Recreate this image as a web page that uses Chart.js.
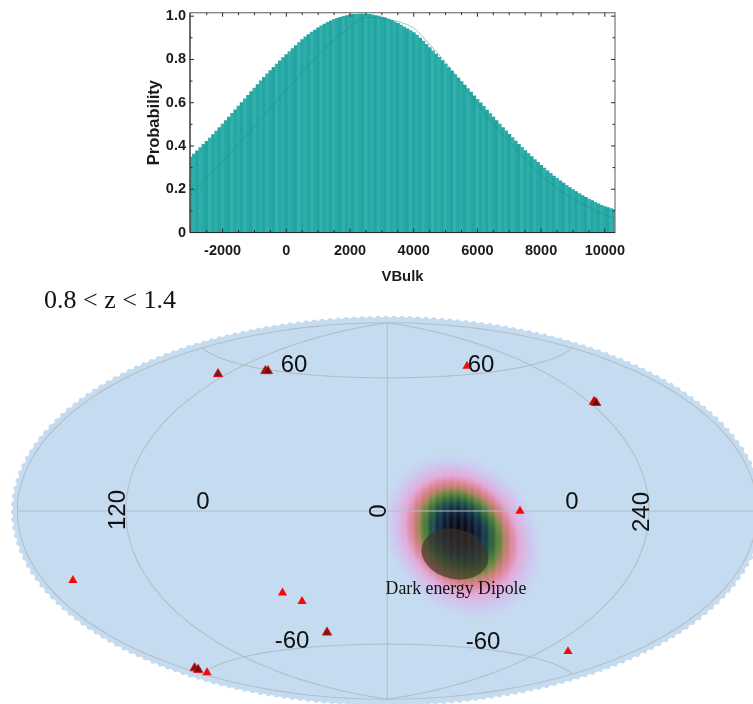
<!DOCTYPE html>
<html>
<head>
<meta charset="utf-8">
<title>VBulk</title>
<script src="https://cdn.jsdelivr.net/npm/chart.js@4/dist/chart.umd.min.js"></script>
<style>
    html, body { margin: 0; padding: 0; background: #fff; overflow: hidden; }
    canvas { position: absolute; left: 0; top: 0; }
</style>
</head>
<body>
<canvas id="sky_chart" width="753" height="704"></canvas>
<canvas id="bulk_chart" width="753" height="300"></canvas>
<script>
// Probability histogram, one bin per 100 km/s
const vBulk = [
    -3000,-2900,-2800,-2700,-2600,-2500,-2400,-2300,-2200,-2100,-2000,-1900,-1800,-1700,-1600,-1500,-1400,-1300,-1200,-1100,
    -1000,-900,-800,-700,-600,-500,-400,-300,-200,-100,0,100,200,300,400,500,600,700,800,900,
    1000,1100,1200,1300,1400,1500,1600,1700,1800,1900,2000,2100,2200,2300,2400,2500,2600,2700,2800,2900,
    3000,3100,3200,3300,3400,3500,3600,3700,3800,3900,4000,4100,4200,4300,4400,4500,4600,4700,4800,4900,
    5000,5100,5200,5300,5400,5500,5600,5700,5800,5900,6000,6100,6200,6300,6400,6500,6600,6700,6800,6900,
    7000,7100,7200,7300,7400,7500,7600,7700,7800,7900,8000,8100,8200,8300,8400,8500,8600,8700,8800,8900,
    9000,9100,9200,9300,9400,9500,9600,9700,9800,9900,10000,10100,10200,10300
];
const probability = [
    .349,.363,.377,.392,.407,.422,.437,.453,.469,.485,.501,.517,.534,.551,.567,.584,.601,.618,.634,.651,
    .668,.684,.701,.717,.733,.749,.764,.779,.794,.808,.822,.836,.850,.864,.878,.892,.904,.915,.926,.936,
    .946,.955,.963,.971,.978,.985,.990,.995,.999,1.003,1.006,1.008,1.009,1.010,1.010,1.009,1.008,1.006,1.003,1.000,
    .996,.992,.987,.981,.974,.967,.959,.950,.941,.933,.924,.913,.899,.885,.870,.855,.840,.825,.810,.795,
    .779,.762,.746,.730,.714,.698,.682,.665,.649,.632,.616,.599,.583,.566,.550,.533,.517,.501,.485,.470,
    .454,.439,.423,.408,.394,.379,.365,.351,.337,.324,.311,.298,.285,.273,.261,.250,.239,.228,.218,.208,
    .198,.189,.180,.171,.162,.154,.147,.140,.133,.126,.120,.115,.110,.105
];

// Thin curve drawn over the histogram
const curveV = [-3024,-2500,-2000,-1500,-1000,-500,0,500,1000,1500,2000,2500,3000,3500,4000,4500,5000,5500,6000,6500,7000,7500,8000,8500,9000,9500,10000,10320];
const curveP = [.172,.25,.33,.41,.49,.575,.658,.74,.82,.89,.95,.995,.99,.975,.945,.87,.785,.69,.59,.50,.42,.34,.265,.205,.155,.115,.08,.065];

const xTicks = [-2000,0,2000,4000,6000,8000,10000];
const xMinorTicks = [-2500,-1500,-1000,-500,500,1000,1500,2500,3000,3500,4500,5000,5500,6500,7000,7500,8500,9000,9500];
const yTicks = [0,0.2,0.4,0.6,0.8,1.0];
const yTickLabels = ['0','0.2','0.4','0.6','0.8','1.0'];
const yMinorTicks = [0.1,0.3,0.5,0.7,0.9];

// Sky map, Hammer projected coordinates
const singleX = [0.609,1.014,-2.403,-0.801,-0.652,-1.378,1.381];
const singleY = [1.089,-0.001,-0.521,-0.615,-0.679,-1.213,-1.055];
const clusterX = [-1.294,-0.932,-0.913,1.580,1.596,-0.461,-1.473,-1.446];
const clusterY = [1.029,1.052,1.052,0.820,0.812,-0.912,-1.180,-1.192];

const mapLabels = ['60','60','-60','-60','0','0','0','120','240','Dark energy Dipole','0.8 < z < 1.4'];

// Dipole centre and the dark ellipse marking it
const densityCentre = [0.579,-0.195];
const dipoleCentre = [0.517,-0.323];

const gridLons = [-120,0,120];
const gridLats = [-60,0,60];

const BAR_COLORS = ['#24a8a6','#2fada9','#22a6a4','#33aeaa','#27a9a7','#20a5a3','#36b0ac'];
const SANS = '"Liberation Sans", Arial, sans-serif';
const SERIF = '"Liberation Serif", "Times New Roman", serif';

/*
 * Draws the frame of the histogram and the small ticks pointing inward on all four sides
 */
const framePlugin = {
    id: 'frame',
    afterDraw(chart) {
        const ctx = chart.ctx;
        const a = chart.chartArea;
        const x = chart.scales.x;
        const y = chart.scales.y;
        ctx.save();
        ctx.strokeStyle = '#808080';
        ctx.lineWidth = 1.3;
        ctx.strokeRect(a.left, a.top, a.right - a.left, a.bottom - a.top);
        ctx.strokeStyle = '#2b2b2b';
        ctx.lineWidth = 1;
        ctx.beginPath();
        ctx.moveTo(a.left, a.top);
        ctx.lineTo(a.left, a.bottom);
        ctx.lineTo(a.right, a.bottom);
        function vTick(v, len) {
            const px = x.getPixelForValue(v);
            ctx.moveTo(px, a.bottom);
            ctx.lineTo(px, a.bottom - len);
            ctx.moveTo(px, a.top);
            ctx.lineTo(px, a.top + len);
        }
        function hTick(v, len) {
            const py = y.getPixelForValue(v);
            ctx.moveTo(a.left, py);
            ctx.lineTo(a.left + len, py);
            ctx.moveTo(a.right, py);
            ctx.lineTo(a.right - len, py);
        }
        xTicks.forEach(v => vTick(v, 4));
        xMinorTicks.forEach(v => vTick(v, 2.5));
        yTicks.forEach(v => hTick(v, 4));
        yMinorTicks.forEach(v => hTick(v, 2.5));
        ctx.stroke();
        ctx.restore();
    }
};

function barPoints() {
    return vBulk.map((v, i) => ({x: v, y: probability[i]}));
}

function curvePoints() {
    return curveV.map((v, i) => ({x: v, y: curveP[i]}));
}

/*
 * Function to create the probability histogram
 */
function createBulkChart() {
    const config = {
        type: 'bar',
        data: {
            datasets: [{
                type: 'line',
                data: curvePoints(),
                borderColor: 'rgba(22,138,136,0.45)',
                borderWidth: 1,
                pointRadius: 0,
                cubicInterpolationMode: 'monotone',
                fill: false
            }, {
                data: barPoints(),
                backgroundColor: vBulk.map((v, i) => BAR_COLORS[i % BAR_COLORS.length]),
                barPercentage: 1,
                categoryPercentage: 1,
                borderWidth: 0
            }]
        },
        options: {
            responsive: false,
            animation: false,
            events: [],
            layout: { padding: { top: 9.5, right: 138, left: 0, bottom: 0 } },
            scales: {
                x: {
                    type: 'linear',
                    min: -3024,
                    max: 10320,
                    offset: false,
                    grid: { display: false, drawTicks: false },
                    border: { display: false },
                    afterBuildTicks(scale) { scale.ticks = xTicks.map(v => ({value: v})); },
                    afterFit(scale) { scale.height = 67.5; },
                    ticks: {
                        autoSkip: false,
                        maxRotation: 0,
                        padding: 10,
                        color: '#1a1a1a',
                        font: { family: SANS, size: 14.5, weight: 'bold' },
                        callback: v => String(v)
                    },
                    title: {
                        display: true,
                        text: 'VBulk',
                        color: '#1a1a1a',
                        font: { family: SANS, size: 14.8, weight: 'bold' },
                        padding: { top: 0, bottom: 14 }
                    }
                },
                y: {
                    min: 0,
                    max: 1.016,
                    grid: { display: false, drawTicks: false },
                    border: { display: false },
                    afterBuildTicks(scale) { scale.ticks = yTicks.map(v => ({value: v})); },
                    afterFit(scale) { scale.width = 190; },
                    ticks: {
                        autoSkip: false,
                        padding: 4,
                        color: '#1a1a1a',
                        font: { family: SANS, size: 14.5, weight: 'bold' },
                        callback: (v, i) => yTickLabels[i]
                    },
                    title: {
                        display: true,
                        text: 'Probability',
                        color: '#1a1a1a',
                        font: { family: SANS, size: 16.5, weight: 'bold' },
                        padding: { top: 144.5, bottom: 0 }
                    }
                }
            },
            plugins: { legend: { display: false }, tooltip: { enabled: false } }
        },
        plugins: [framePlugin]
    };
    return new Chart(document.getElementById('bulk_chart'), config);
}

/*
 * Hammer projection, degrees in, plot units out
 */
function hammer(lon, lat) {
    const l = lon * Math.PI / 360;
    const p = lat * Math.PI / 180;
    const d = Math.sqrt(1 + Math.cos(p) * Math.cos(l));
    return {x: 2 * Math.SQRT2 * Math.cos(p) * Math.sin(l) / d, y: Math.SQRT2 * Math.sin(p) / d};
}

function meridian(lon) {
    const pts = [];
    for (let lat = -90; lat <= 90; lat += 3) pts.push(hammer(lon, lat));
    return pts;
}

function parallel(lat) {
    const pts = [];
    for (let lon = -180; lon <= 180; lon += 4) pts.push(hammer(lon, lat));
    return pts;
}

function gridDataset(pts) {
    return {
        data: pts,
        showLine: true,
        pointRadius: 0,
        borderColor: '#b3bec8',
        borderWidth: 1.1,
        tension: 0
    };
}

/*
 * Blue sky background with its scalloped rim and the dipole density blob
 */
const skyPlugin = {
    id: 'sky',
    beforeDatasetsDraw(chart) {
        const ctx = chart.ctx;
        const sx = chart.scales.x;
        const sy = chart.scales.y;
        const cx = sx.getPixelForValue(0);
        const cy = sy.getPixelForValue(0);
        const rx = sx.getPixelForValue(2 * Math.SQRT2) - cx;
        const ry = cy - sy.getPixelForValue(Math.SQRT2);

        ctx.save();
        ctx.fillStyle = '#c5dcf0';
        ctx.beginPath();
        ctx.ellipse(cx, cy, rx + 4.5, ry + 5.5, 0, 0, Math.PI * 2);
        ctx.fill();
        ctx.strokeStyle = '#c5dcf0';
        ctx.lineWidth = 5;
        ctx.lineCap = 'round';
        ctx.setLineDash([0, 8]);
        ctx.beginPath();
        ctx.ellipse(cx, cy, rx + 4, ry + 4.5, 0, 0, Math.PI * 2);
        ctx.stroke();
        ctx.restore();

        // density blob
        const bx = sx.getPixelForValue(densityCentre[0]);
        const by = sy.getPixelForValue(densityCentre[1]);
        ctx.save();
        ctx.translate(bx, by);
        ctx.rotate(50 * Math.PI / 180);
        ctx.scale(1, 0.82);
        const R = 94;
        const g = ctx.createRadialGradient(-8, -2, 0, 0, 0, R);
        g.addColorStop(0, '#07070f');
        g.addColorStop(0.15, '#0c1224');
        g.addColorStop(0.27, '#103048');
        g.addColorStop(0.36, '#225a3e');
        g.addColorStop(0.45, '#5c8238');
        g.addColorStop(0.51, '#a8825a');
        g.addColorStop(0.58, '#dd7f8e');
        g.addColorStop(0.68, '#e4a8d8');
        g.addColorStop(0.84, 'rgba(210,192,240,0.6)');
        g.addColorStop(1, 'rgba(197,221,240,0)');
        ctx.fillStyle = g;
        ctx.beginPath();
        ctx.arc(0, 0, R, 0, Math.PI * 2);
        ctx.fill();
        ctx.restore();

        // the map cells show through the blob as faint columns
        ctx.save();
        ctx.beginPath();
        ctx.ellipse(bx, by, 78, 68, 50 * Math.PI / 180, 0, Math.PI * 2);
        ctx.clip();
        ctx.fillStyle = 'rgba(197,221,240,0.09)';
        for (let px = bx - 80; px < bx + 80; px += 7) ctx.fillRect(px, by - 80, 3.5, 160);
        ctx.restore();
    },
    afterDatasetsDraw(chart) {
        const ctx = chart.ctx;
        const sx = chart.scales.x;
        const sy = chart.scales.y;
        ctx.save();
        // dark ellipse for the dipole
        ctx.fillStyle = 'rgba(58,50,40,0.66)';
        ctx.beginPath();
        ctx.ellipse(sx.getPixelForValue(dipoleCentre[0]), sy.getPixelForValue(dipoleCentre[1]), 34, 25, 14 * Math.PI / 180, 0, Math.PI * 2);
        ctx.fill();

        // text on the map: label index, pixel x, pixel y, rotation, font
        const places = [
            [0, 294, 365, 0, '24px ' + SANS],
            [1, 481, 365, 0, '24px ' + SANS],
            [2, 292, 641, 0, '24px ' + SANS],
            [3, 483, 642, 0, '24px ' + SANS],
            [4, 203, 502, 0, '24px ' + SANS],
            [5, 572, 502, 0, '24px ' + SANS],
            [6, 379, 511, -90, '24px ' + SANS],
            [7, 118, 510, -90, '24px ' + SANS],
            [8, 642, 512, -90, '24px ' + SANS],
            [9, 456, 589, 0, '17.8px ' + SERIF],
            [10, 110, 301, 0, '26px ' + SERIF]
        ];
        ctx.fillStyle = '#111';
        ctx.textAlign = 'center';
        ctx.textBaseline = 'middle';
        places.forEach(p => {
            ctx.save();
            ctx.translate(p[1], p[2]);
            ctx.rotate(p[3] * Math.PI / 180);
            ctx.font = p[4];
            ctx.fillText(mapLabels[p[0]], 0, 0);
            ctx.restore();
        });
        ctx.restore();
    }
};

/*
 * Function to create the sky map, axes hidden and stretched over the whole page
 */
function createSkyChart() {
    const datasets = [{
        data: singleX.map((v, i) => ({x: v, y: singleY[i]})),
        pointStyle: 'triangle',
        pointRadius: 5.3,
        pointBackgroundColor: '#f50a0a',
        pointBorderColor: '#f50a0a',
        pointBorderWidth: 0
    }, {
        data: clusterX.map((v, i) => ({x: v, y: clusterY[i]})),
        pointStyle: 'triangle',
        pointRadius: 5.3,
        pointBackgroundColor: 'rgba(105,0,0,0.88)',
        pointBorderColor: '#e01010',
        pointBorderWidth: 1
    }];
    datasets.push(gridDataset(parallel(0)));
    gridLats.filter(l => l !== 0).forEach(l => datasets.push(gridDataset(parallel(l))));
    gridLons.forEach(l => datasets.push(gridDataset(meridian(l))));
    datasets.push(gridDataset(meridian(-180)));
    datasets.push(gridDataset(meridian(180)));

    const config = {
        type: 'scatter',
        data: { datasets: datasets },
        options: {
            responsive: false,
            animation: false,
            events: [],
            layout: { padding: 0, autoPadding: false },
            scales: {
                x: { type: 'linear', display: false, min: -2.9605, max: 2.795 },
                y: { type: 'linear', display: false, min: -1.4495, max: 3.838 }
            },
            plugins: { legend: { display: false }, tooltip: { enabled: false } }
        },
        plugins: [skyPlugin]
    };
    return new Chart(document.getElementById('sky_chart'), config);
}

createSkyChart();
createBulkChart();
</script>
</body>
</html>
